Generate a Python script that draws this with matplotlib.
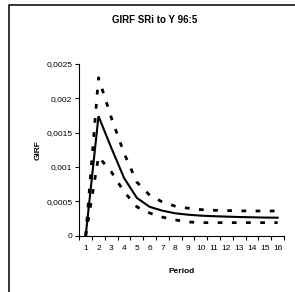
import matplotlib.pyplot as plt
from matplotlib.patches import Rectangle
from matplotlib.ticker import FuncFormatter, FixedLocator

# GIRF of SRi to Y, 96:5
periods = list(range(1, 17))
girf = [0.0, 0.00174, 0.00128, 0.00084, 0.00055, 0.00042, 0.000364, 0.000326,
        0.000306, 0.000292, 0.000284, 0.000278, 0.000272, 0.000268, 0.000264, 0.000262]
upper = [0.0, 0.0023, 0.00172, 0.0012, 0.00078, 0.00059, 0.00049, 0.00043,
         0.0004, 0.00038, 0.00037, 0.000366, 0.000362, 0.00036, 0.00036, 0.00036]
lower = [0.0, 0.00115, 0.00093, 0.00064, 0.00042, 0.00033, 0.00027, 0.00023,
         0.0002, 0.00019, 0.00019, 0.00019, 0.00019, 0.00019, 0.00019, 0.00019]
yticks = [0, 0.0005, 0.001, 0.0015, 0.002, 0.0025]

plt.rcParams['font.family'] = ['Liberation Sans', 'DejaVu Sans']

fig = plt.figure(figsize=(2.95, 2.92), dpi=100)
ax = fig.add_axes([0.2688, 0.1928, 0.694, 0.588])

ax.plot(periods, girf, color='black', lw=1.5, solid_joinstyle='miter')
for band in (upper, lower):
    ax.plot(periods, band, color='black', lw=2.0, dashes=(1.7, 3.4))

ax.set_xlim(0.5, 16.5)
ax.set_ylim(0, 0.0025)
ax.set_yticks(yticks)
ax.yaxis.set_major_formatter(FuncFormatter(
    lambda v, p: '0' if v == 0 else ('%g' % v).replace('.', ',')))
ax.set_xticks(periods)
ax.set_xticklabels([str(p) for p in periods])
ax.xaxis.set_minor_locator(FixedLocator([p + 0.5 for p in range(0, 17)]))
ax.tick_params(axis='x', which='major', length=0, labelsize=6, pad=7)
ax.tick_params(axis='x', which='minor', length=3, width=0.8)
ax.tick_params(axis='y', length=3, width=0.8, labelsize=6, pad=2)

for s in ('top', 'right'):
    ax.spines[s].set_visible(False)
for s in ('left', 'bottom'):
    ax.spines[s].set_linewidth(0.8)

ax.set_xlabel('Period', fontsize=6, fontweight='bold', labelpad=11)
ax.set_ylabel('GIRF', fontsize=6, fontweight='bold', labelpad=3)
fig.text(0.523, 0.931, 'GIRF SRi to Y 96:5', ha='center', va='center',
         fontsize=7, fontweight='bold')

# chart frame
fig.patches.append(Rectangle((9 / 295, -0.1), 1.2, 1 - 5 / 292 + 0.1,
                             transform=fig.transFigure, fill=False,
                             edgecolor='black', lw=1.1))

fig.savefig('out.png', dpi=100)
